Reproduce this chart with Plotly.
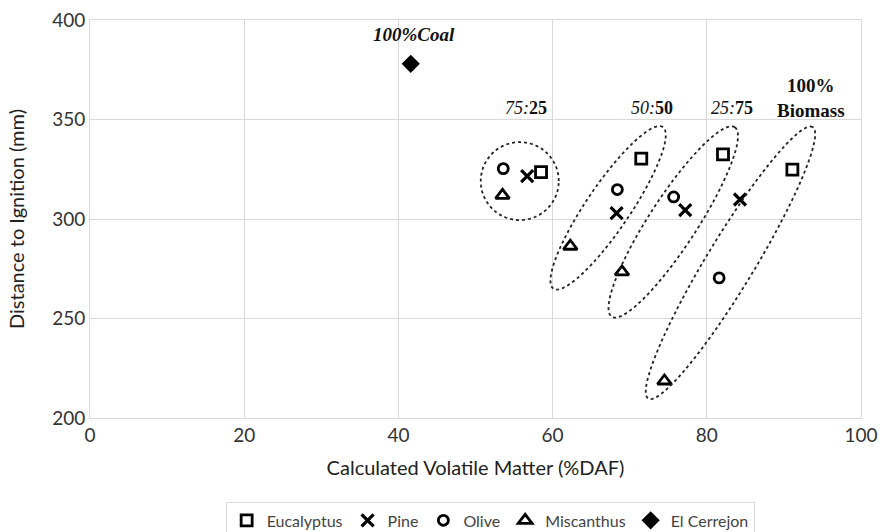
import numpy as np
import plotly.graph_objects as go

# ---------------- data ----------------
eucalyptus_x = [58.5, 71.5, 82.1, 91.1]
eucalyptus_y = [323.6, 330.3, 332.5, 324.8]
pine_x = [56.7, 68.3, 77.2, 84.3]
pine_y = [321.6, 303.0, 304.4, 309.8]
olive_x = [53.6, 68.4, 75.7, 81.6]
olive_y = [325.3, 314.8, 311.1, 270.4]
miscanthus_x = [53.5, 62.3, 69.0, 74.5]
miscanthus_y = [311.9, 286.3, 273.4, 218.6]
coal_x = [41.6]
coal_y = [378.0]

x_ticks = [0, 20, 40, 60, 80, 100]
y_ticks = [200, 250, 300, 350, 400]

# blend labels (text, x, y, size)
label_text = ["<b><i>100%Coal</i></b>", "<i>75:</i><b>25</b>", "<i>50:</i><b>50</b>",
              "<i>25:</i><b>75</b>", "<b>100%<br>Biomass</b>"]
label_x = [42.0, 56.5, 72.9, 83.3, 93.5]
label_y = [392.5, 355.6, 355.6, 355.6, 360.6]
label_size = [19, 18, 18, 18, 19]

# group ellipses: centre (data), semi-axes (px), angle (deg)
ell_cx = [55.74, 67.2, 75.65, 83.07]
ell_cy = [319.05, 305.6, 298.5, 278.0]
ell_a = [39, 97.6, 113, 158.7]
ell_b = [39, 22, 24, 24]
ell_ang = [0, 55.9, 57.0, 58.8]

# ---------------- layout constants ----------------
W, H = 882, 532
ML, MR, MT, MB = 90, 21, 20, 114
XR = [0, 100]
YR = [200, 400]
pxx = (W - ML - MR) / (XR[1] - XR[0])
pxy = (H - MT - MB) / (YR[1] - YR[0])

FONT = "Lato"
GRID = "#d9d9d9"

fig = go.Figure()

mk_line = dict(color="black", width=2.8)
fig.add_trace(go.Scatter(x=eucalyptus_x, y=eucalyptus_y, mode="markers", name="Eucalyptus",
                         marker=dict(symbol="square-open", size=11, color="black", line=mk_line)))
fig.add_trace(go.Scatter(x=pine_x, y=pine_y, mode="markers", name="Pine",
                         marker=dict(symbol="x-thin-open", size=12, color="black",
                                     line=dict(color="black", width=3.2))))
fig.add_trace(go.Scatter(x=olive_x, y=olive_y, mode="markers", name="Olive",
                         marker=dict(symbol="circle-open", size=10, color="black", line=mk_line)))
fig.add_trace(go.Scatter(x=miscanthus_x, y=miscanthus_y, mode="markers", name="Miscanthus",
                         marker=dict(symbol="triangle-up-open", size=12, color="black", line=mk_line)))
fig.add_trace(go.Scatter(x=coal_x, y=coal_y, mode="markers", name="El Cerrejon",
                         marker=dict(symbol="diamond", size=14, color="black")))

# dotted ellipses
t = np.linspace(0, 2 * np.pi, 121)
for cx, cy, a, b, ang in zip(ell_cx, ell_cy, ell_a, ell_b, ell_ang):
    th = np.deg2rad(ang)
    px = a * np.cos(t) * np.cos(th) - b * np.sin(t) * np.sin(th)
    py = a * np.cos(t) * np.sin(th) + b * np.sin(t) * np.cos(th)
    xs = cx + px / pxx
    ys = cy + py / pxy
    path = "M " + " L ".join(f"{x:.4f},{y:.4f}" for x, y in zip(xs, ys)) + " Z"
    fig.add_shape(type="path", path=path, xref="x", yref="y",
                  line=dict(color="#222222", width=1.8, dash="dot"))

for txt, lx, ly, sz in zip(label_text, label_x, label_y, label_size):
    fig.add_annotation(x=lx, y=ly, text=txt, showarrow=False, xref="x", yref="y",
                       font=dict(family="Liberation Serif", size=sz, color="#111111"))

fig.update_layout(
    width=W, height=H,
    margin=dict(l=ML, r=MR, t=MT, b=MB, autoexpand=False),
    paper_bgcolor="white", plot_bgcolor="white",
    font=dict(family=FONT, color="#333333"),
    showlegend=True,
    legend=dict(orientation="h", x=0.519, xanchor="center", y=-0.212, yanchor="top",
                font=dict(family=FONT, size=16, color="#444444"),
                bordercolor=GRID, borderwidth=1, itemwidth=30,
                tracegroupgap=0),
    xaxis=dict(range=XR, tickvals=x_ticks, showgrid=True, gridcolor=GRID, gridwidth=1,
               zeroline=False, showline=True, linecolor=GRID, mirror=True,
               tickfont=dict(family=FONT, size=19, color="#333333"),
               title=dict(text="Calculated Volatile Matter (%DAF)", standoff=16,
                          font=dict(family=FONT, size=20, color="#222222"))),
    yaxis=dict(range=YR, tickvals=y_ticks, showgrid=True, gridcolor=GRID, gridwidth=1,
               zeroline=False, showline=True, linecolor=GRID, mirror=True,
               tickfont=dict(family=FONT, size=19, color="#333333"),
               title=dict(text="Distance to Ignition (mm)", standoff=22,
                          font=dict(family=FONT, size=20, color="#222222"))),
)

fig.write_html("out.html")
